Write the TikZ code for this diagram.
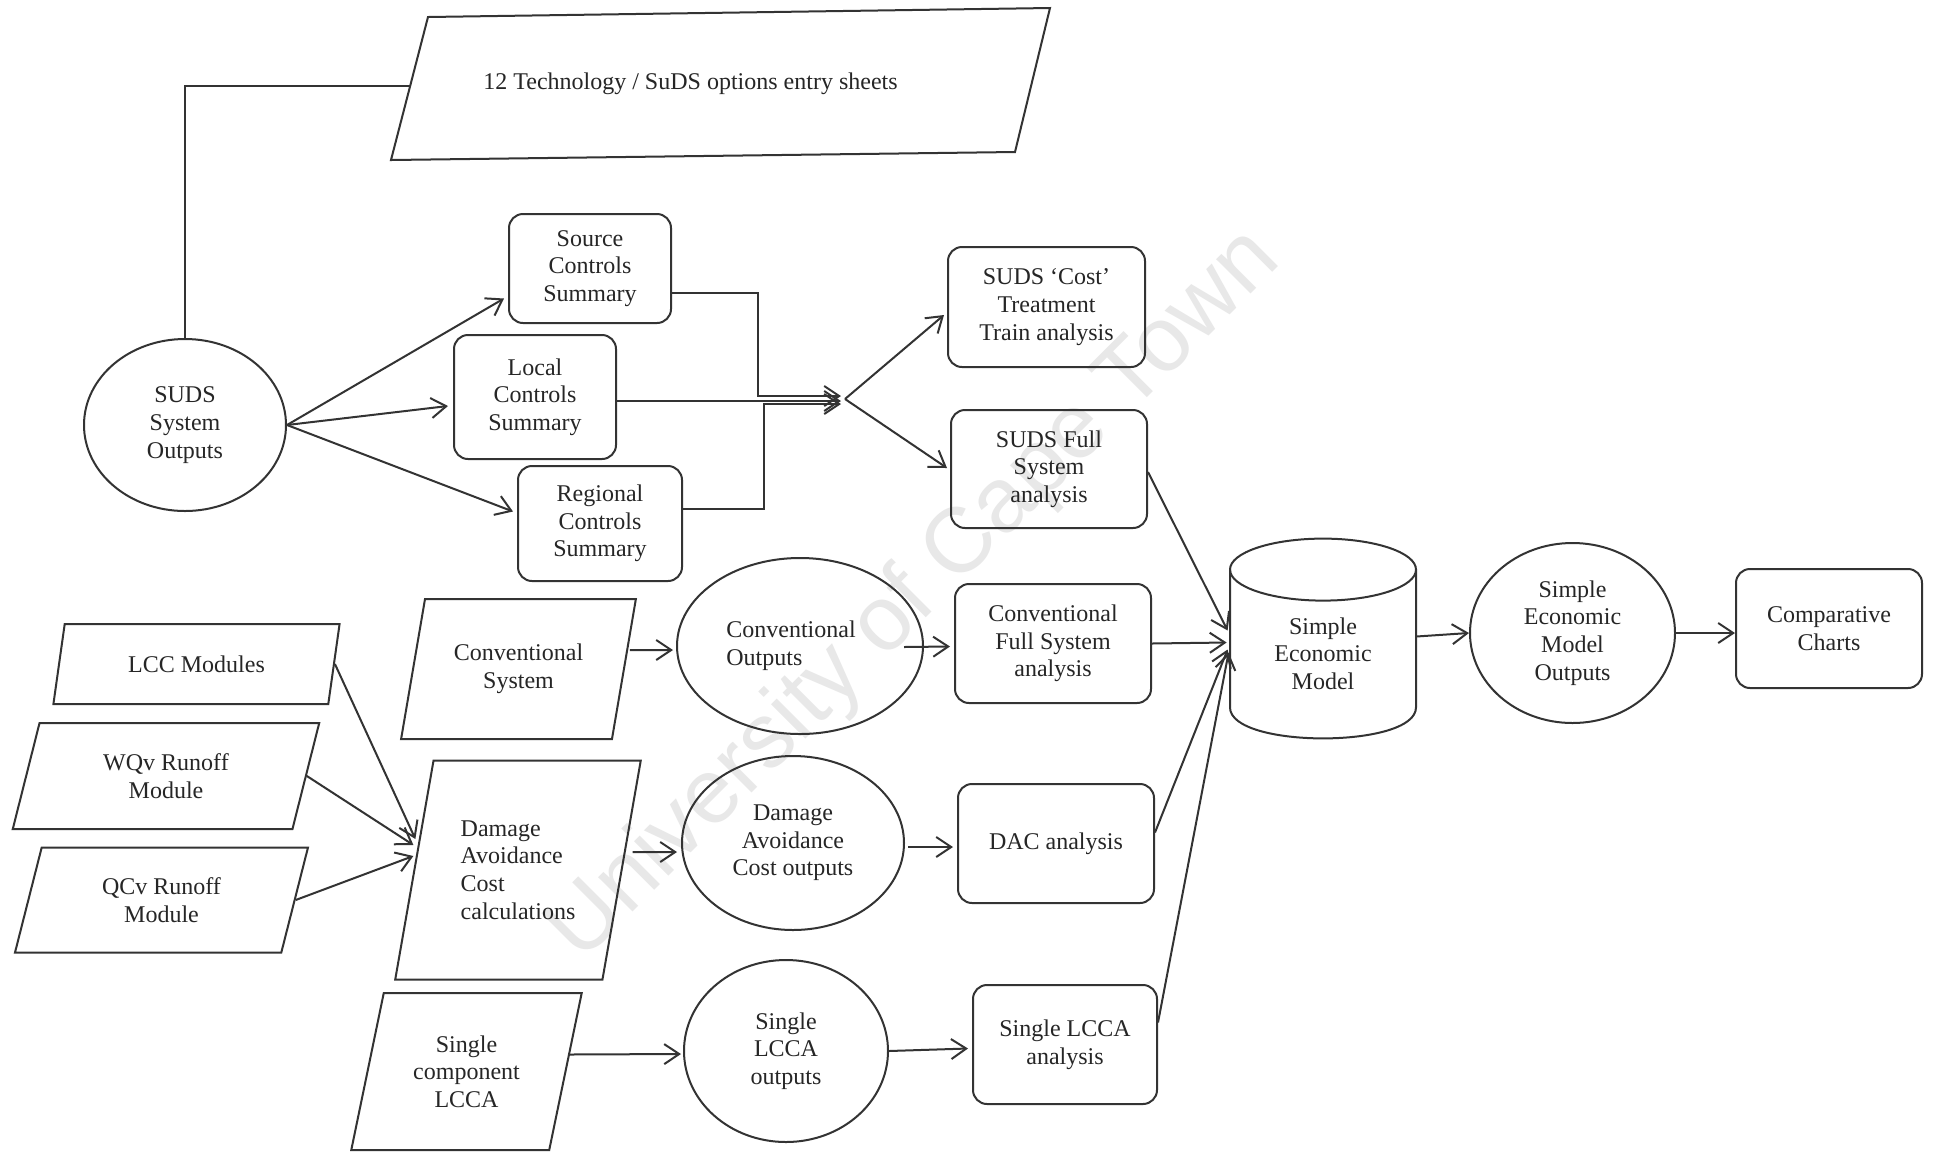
\documentclass[tikz,border=0pt]{standalone}
\usepackage{fontspec}
\setmainfont{Liberation Serif}
\newfontfamily\wmfont{Liberation Sans}
\usetikzlibrary{shapes.geometric,arrows.meta,calc}

\begin{document}
\begin{tikzpicture}[x=0.5pt,y=-0.5pt,
  ln/.style={draw=black!80, line width=1pt},
  arr/.style={ln, -{Straight Barb[length=7.5pt,width=10pt]}},
  txt/.style={font=\fontsize{12}{13.8}\selectfont, align=center, text=black!85},
  rbox/.style={ln, txt, rectangle, rounded corners=7pt, inner sep=0pt},
  oval/.style={ln, txt, ellipse, inner sep=0pt},
  para/.style args={#1/#2}{ln, txt, trapezium, trapezium stretches=true,
    trapezium left angle=#1, trapezium right angle=#2, inner sep=2pt}]

\fill[white] (0,0) rectangle (1934,1153);
\useasboundingbox (0,0) rectangle (1934,1153);

% ---- watermark, behind everything
\node[font=\wmfont\fontsize{46}{50}\selectfont, text=black!9, rotate=45] (wm) at (915,596) {University of Cape Town};

% ---- entry sheets: slanted sheet drawn round its node
\node[txt, minimum width=329.5pt, minimum height=76pt, inner sep=0pt] (tech) at (720.5,84)
  {12 Technology / SuDS options entry sheets\hspace*{30pt}};
\draw[ln] ($(tech.center)+(-292.5,-67)$) -- ($(tech.center)+(329.5,-76)$)
  -- ($(tech.center)+(294.5,68)$) -- ($(tech.center)+(-329.5,76)$) -- cycle;
\coordinate (techin) at ($(tech.center)+(-311,2)$);

\node[oval, minimum width=101pt, minimum height=86pt] (sudsout) at (185,425) {SUDS\\System\\Outputs};

\node[rbox, minimum width=81pt, minimum height=54.5pt] (source) at (590,268.5) {Source\\Controls\\Summary};
\node[rbox, minimum width=81pt, minimum height=62pt] (local) at (535,397) {Local\\Controls\\Summary};
\node[rbox, minimum width=82pt, minimum height=57.5pt] (regional) at (600,523.5) {Regional\\Controls\\Summary};

\node[rbox, minimum width=98.5pt, minimum height=60pt] (cost) at (1046.5,307) {SUDS ‘Cost’\\Treatment\\Train analysis};
\node[rbox, minimum width=98pt, minimum height=59pt] (full) at (1049,469) {SUDS Full\\System\\analysis};

\node[para=76/104, minimum width=143.5pt, minimum height=40pt] (lcc) at (196.5,664) {LCC Modules};
\node[para=75/105, minimum width=154pt, minimum height=53pt] (wqv) at (166,776) {WQv Runoff\\Module};
\node[para=75/105, minimum width=147.5pt, minimum height=52.5pt] (qcv) at (161.5,900) {QCv Runoff\\Module};

\node[para=73/107, minimum width=118.5pt, minimum height=70pt] (convsys) at (518.5,669) {Conventional\\System};
\node[para=75.4/104.6, minimum width=123pt, minimum height=109.5pt, align=left] (dmg) at (518,870) {Damage\\Avoidance\\Cost\\calculations};
\node[para=74.3/105.7, minimum width=115.5pt, minimum height=78.5pt] (sing) at (466.5,1071.5) {Single\\component\\LCCA};

% ---- outputs
\node[oval, minimum width=123pt, minimum height=88pt, align=left] (convout) at (800,646) {Conventional\hspace*{9pt}\\Outputs};
\node[oval, minimum width=111pt, minimum height=87pt] (dacout) at (793,843) {Damage\\Avoidance\\Cost outputs};
\node[oval, minimum width=102pt, minimum height=91pt] (singout) at (786,1051) {Single\\LCCA\\outputs};

% ---- analyses
\node[rbox, minimum width=98pt, minimum height=59.5pt] (convan) at (1053,643.5) {Conventional\\Full System\\analysis};
\node[rbox, minimum width=98pt, minimum height=59.5pt] (dacan) at (1056,843.5) {DAC analysis};
\node[rbox, minimum width=92pt, minimum height=59.5pt] (singan) at (1065,1044.5) {Single LCCA\\analysis};

% ---- economic model (cylinder)
\node[minimum width=93pt, minimum height=99.5pt, inner sep=0pt,
      label={[txt, yshift=-7.5pt]center:{Simple\\Economic\\Model}}] (sem) at (1323,638.5) {};
\draw[ln] ($(sem.north)+(0,31)$) ellipse [x radius=93, y radius=31];
\draw[ln] ($(sem.north)+(-93,31)$) -- ($(sem.south)+(-93,-31)$)
  .. controls ($(sem.south)+(-93,10.33)$) and ($(sem.south)+(93,10.33)$) .. ($(sem.south)+(93,-31)$)
  -- ($(sem.north)+(93,31)$);

\node[oval, minimum width=102.5pt, minimum height=90pt] (semout) at (1572.5,633) {Simple\\Economic\\Model\\Outputs};
\node[rbox, minimum width=93pt, minimum height=59.5pt] (comp) at (1829,628.5) {Comparative\\Charts};

% ---- connectors
\draw[ln] (sudsout.north) |- (techin);

\draw[arr] (sudsout.east) -- ($(source.west)+(-4,30)$);
\draw[arr] (sudsout.east) -- ($(local.west)+(-5,9)$);
\draw[arr] (sudsout.east) -- ($(regional.west)+(-4,-12)$);

\coordinate (hub) at (845,399);
\draw[arr] ($(source.east)+(0,24.5)$) -| ($(hub)+(-87,-3)$) -- ($(hub)+(-4,-3)$);
\draw[arr] ($(local.east)+(0,4)$) -- ($(hub)+(-4,2)$);
\draw[arr] ($(regional.east)+(0,-14.5)$) -| ($(hub)+(-81,5)$) -- ($(hub)+(-4,5)$);
\draw[arr] (hub) -- ($(cost.west)+(-3,8)$);
\draw[arr] (hub) -- ($(full.west)+(-3,-1)$);

\draw[arr] (lcc.east) -- ($(dmg.west)+(2,-31)$);
\draw[arr] (wqv.east) -- ($(dmg.west)+(0,-25)$);
\draw[arr] (qcv.east) -- ($(dmg.west)+(0,-14)$);

\draw[arr] ($(convsys.east)+(5,-19)$) -- ($(convout.west)+(-3,4)$);
\draw[arr] ($(dmg.east)+(10,-18)$) -- ($(dacout.west)+(-4,9)$);
\draw[arr] ($(sing.east)+(3,-17)$) -- ($(singout.west)+(-2,3)$);

\draw[arr] ($(convout.east)+(-20,1)$) -- ($(convan.west)+(-4,3)$);
\draw[arr] ($(dacout.east)+(3,4)$) -- ($(dacan.west)+(-4,3.5)$);
\draw[arr] (singout.east) -- ($(singan.west)+(-4,4)$);

\draw[arr] ($(full.east)+(0,3)$) -- ($(sem.west)+(-2,-8)$);
\draw[arr] (convan.east) -- ($(sem.west)+(-3,4)$);
\draw[arr] ($(dacan.east)+(0,-11)$) -- ($(sem.west)+(-2,11)$);
\draw[arr] ($(singan.east)+(0,-22)$) -- ($(sem.west)+(-1,14)$);

\draw[arr] ($(sem.east)+(0,-2)$) -- (semout.west);
\draw[arr] (semout.east) -- (semout.east -| comp.west);

\end{tikzpicture}
\end{document}
